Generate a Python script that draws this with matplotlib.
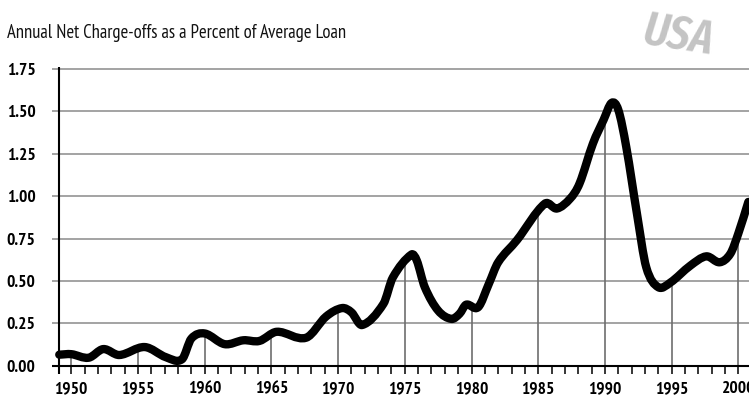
import numpy as np
import matplotlib
matplotlib.use("Agg")
import matplotlib.pyplot as plt
from matplotlib.path import Path
from matplotlib.patches import PathPatch
from matplotlib.ticker import FixedLocator

plt.rcParams['font.family'] = ['PT Sans Narrow', 'DejaVu Sans']

# Annual net charge-offs (% of average loans)
years = [1949.1, 1950.0, 1951.3, 1952.4, 1953.6, 1955.5, 1957.1, 1958.3, 1959.0,
         1960.0, 1961.5, 1962.9, 1964.1, 1965.4, 1967.6, 1969.1, 1970.3, 1971.0,
         1971.8, 1973.4, 1974.1, 1975.5, 1975.9, 1976.5, 1977.5, 1978.5, 1979.1,
         1979.6, 1980.5, 1981.3, 1982.0, 1983.4, 1985.5, 1986.4, 1987.4, 1988.1,
         1989.1, 1989.9, 1990.5, 1991.0, 1991.6, 1992.4, 1993.1, 1994.0, 1994.9,
         1996.4, 1997.6, 1998.6, 1999.4, 2000.0, 2000.75]
rates = [0.065, 0.068, 0.047, 0.098, 0.063, 0.110, 0.050, 0.038, 0.160,
         0.190, 0.127, 0.150, 0.146, 0.200, 0.165, 0.290, 0.340, 0.315,
         0.240, 0.365, 0.520, 0.656, 0.620, 0.463, 0.325, 0.276, 0.306,
         0.360, 0.345, 0.483, 0.610, 0.740, 0.956, 0.927, 0.986, 1.075,
         1.310, 1.450, 1.550, 1.510, 1.290, 0.897, 0.580, 0.463, 0.490,
         0.590, 0.645, 0.610, 0.660, 0.780, 0.966]

y_ticks = [0.0, 0.25, 0.5, 0.75, 1.0, 1.25, 1.5, 1.75]
y_labels = ["0.00", "0.25", "0.50", "0.75", "1.00", "1.25", "1.50", "1.75"]
x_major = list(range(1950, 2001, 5))
x_labels = [str(y) for y in x_major]

title = "Annual Net Charge-offs as a Percent of Average Loan"
badge = "USA"

W, H = 749, 399
fig = plt.figure(figsize=(W / 100, H / 100), dpi=100)
ax = fig.add_axes([59 / W, 1 - 365.7 / H, 690 / W, (365.7 - 69) / H])
x0, x1 = 1949.08, 2000.8
ax.set_xlim(x0, x1)
ax.set_ylim(0, 1.75)
for s in ax.spines.values():
    s.set_visible(False)

px_year = 690 / (x1 - x0)
ext = 7 / px_year

# horizontal grid, poking slightly past the value axis
for v in y_ticks[1:]:
    ax.plot([x0 - ext, x1], [v, v], color='#9c9c9c', lw=1.3, clip_on=False,
            zorder=1, solid_capstyle='butt')
ax.plot([x0 - ext, x1], [0, 0], color='black', lw=1.5, clip_on=False,
        zorder=3, solid_capstyle='butt')
# value axis
ax.plot([x0, x0], [-8 / 169.3, 1.75 + 2 / 169.3], color='black', lw=1.5,
        clip_on=False, zorder=3, solid_capstyle='butt')

# drop lines from the axis up to the curve every five years
for yr in x_major:
    ax.plot([yr, yr], [0, np.interp(yr, years, rates)], color='#6e6e6e',
            lw=1.2, zorder=1)

# smooth curve through the points (cubic Hermite as Bezier segments)
t = np.array(years)
v = np.array(rates)
n = len(t)
m = np.zeros(n)
m[0] = (v[1] - v[0]) / (t[1] - t[0])
m[-1] = (v[-1] - v[-2]) / (t[-1] - t[-2])
for i in range(1, n - 1):
    m[i] = (v[i + 1] - v[i - 1]) / (t[i + 1] - t[i - 1])
verts = [(t[0], v[0])]
codes = [Path.MOVETO]
for i in range(n - 1):
    h = t[i + 1] - t[i]
    verts += [(t[i] + h / 3, v[i] + m[i] * h / 3),
              (t[i + 1] - h / 3, v[i + 1] - m[i + 1] * h / 3),
              (t[i + 1], v[i + 1])]
    codes += [Path.CURVE4] * 3
ax.add_patch(PathPatch(Path(verts, codes), facecolor='none', edgecolor='black',
                       lw=6.0, capstyle='round', joinstyle='round', zorder=4,
                       clip_on=False))

# ticks and labels
ax.xaxis.set_major_locator(FixedLocator(x_major))
ax.xaxis.set_minor_locator(FixedLocator(list(range(1950, 2001))))
ax.set_xticklabels(x_labels)
ax.tick_params(axis='x', which='both', direction='out', length=6, width=1.1,
               color='black', pad=5)
ax.tick_params(axis='x', labelsize=12.5)
for lab in ax.get_xticklabels():
    lab.set_fontweight('bold')

ax.set_yticks(y_ticks)
ax.set_yticklabels(y_labels)
ax.tick_params(axis='y', length=0, pad=17, labelsize=12.5)
for lab in ax.get_yticklabels():
    lab.set_fontweight('bold')

fig.text(7 / W, 1 - 33 / H, title, ha='left', va='center', fontsize=13.4,
         color='#111111')
fig.text(678 / W, 1 - 36 / H, badge, ha='center', va='center', fontsize=34,
         color='#c4c4c4', style='italic', fontweight='semibold', rotation=-9,
         family=['Fira Sans Extra Condensed', 'Fira Sans Condensed',
                 'PT Sans Narrow', 'DejaVu Sans'])

fig.savefig("out.png", dpi=100, facecolor='white')
